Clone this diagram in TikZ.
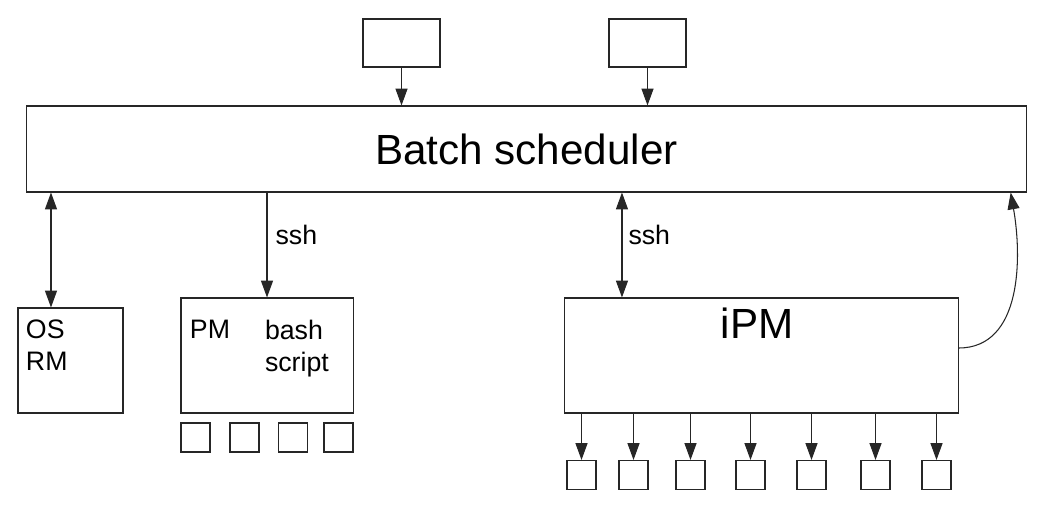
\documentclass[tikz,border=0pt]{standalone}
\usepackage{fontspec}
\setmainfont{Liberation Sans}
\usetikzlibrary{arrows.meta}

\begin{document}
\begin{tikzpicture}[x=0.025cm,y=-0.025cm,>={Triangle[length=0.42cm,width=0.3cm]},line width=0.75pt,draw=black!85]
    \tikzstyle{box}=[draw, rectangle, inner sep=0pt]
    \tikzstyle{sq}=[box, minimum width=0.725cm, minimum height=0.725cm]
    \tikzstyle{small}=[font=\fontsize{19}{22.8}\selectfont, inner sep=0pt]
    \tikzstyle{big}=[font=\fontsize{30}{36}\selectfont, inner sep=0pt]

    \useasboundingbox (0,0) rectangle (1056,524);

    \node[box, big, minimum width=24.975cm, minimum height=2.15cm] (sched) at (526.5,149) {Batch scheduler};
    \node[box, minimum width=1.925cm, minimum height=1.2cm] (in1) at (401.5,43) {};
    \node[box, minimum width=1.925cm, minimum height=1.2cm] (in2) at (647.5,43) {};
    \draw[->] (in1) -- (in1 |- sched.north);
    \draw[->] (in2) -- (in2 |- sched.north);

    % OS / RM
    \node[box, minimum width=2.625cm, minimum height=2.625cm] (os) at (70.5,360.5) {};
    \node[small, anchor=north west, align=left] (ostxt) at ([xshift=0.2cm,yshift=-0.3cm]os.north west) {OS\\RM};
    \coordinate (oa) at ([xshift=-0.4875cm]os.north);
    \draw[<->] (oa |- sched.south) -- (oa);

    % PM with bash script
    \node[box, minimum width=4.3cm, minimum height=2.875cm] (pm) at (267,355.5) {};
    \node[small, anchor=north west] (pmtxt) at ([xshift=0.225cm,yshift=-0.55cm]pm.north west) {PM};
    \node[small, anchor=north west, align=left] (bashtxt) at ([xshift=2.1cm,yshift=-0.55cm]pm.north west) {bash\\script};
    \draw[->] (pm.north |- sched.south) -- (pm.north) node[small, pos=0.4, right=0.2cm] (ssh1) {ssh};
    \foreach \x [count=\i] in {195.5,244.5,293,338.5}
        \node[sq] (p\i) at (\x,437.5) {};

    % iPM
    \node[box, minimum width=9.825cm, minimum height=2.875cm] (ipm) at (761.5,355.5) {};
    \node[big] (ipmtxt) at (757,323.5) {iPM};
    \coordinate (ia) at ([xshift=-3.4875cm]ipm.north);
    \draw[<->] (ia |- sched.south) -- (ia) node[small, pos=0.4, right=0.15cm] (ssh2) {ssh};
    \coordinate (back) at ([xshift=-0.4cm]sched.south east);
    \draw[->] ([yshift=0.1875cm]ipm.east) to[out=0,in=-80] (back);
    \foreach \x [count=\i] in {581.5,633.5,690.5,750.5,811.5,875.5,936.5} {
        \node[sq] (q\i) at (\x,475) {};
        \draw[->] (q\i |- ipm.south) -- (q\i);
    }
\end{tikzpicture}
\end{document}
